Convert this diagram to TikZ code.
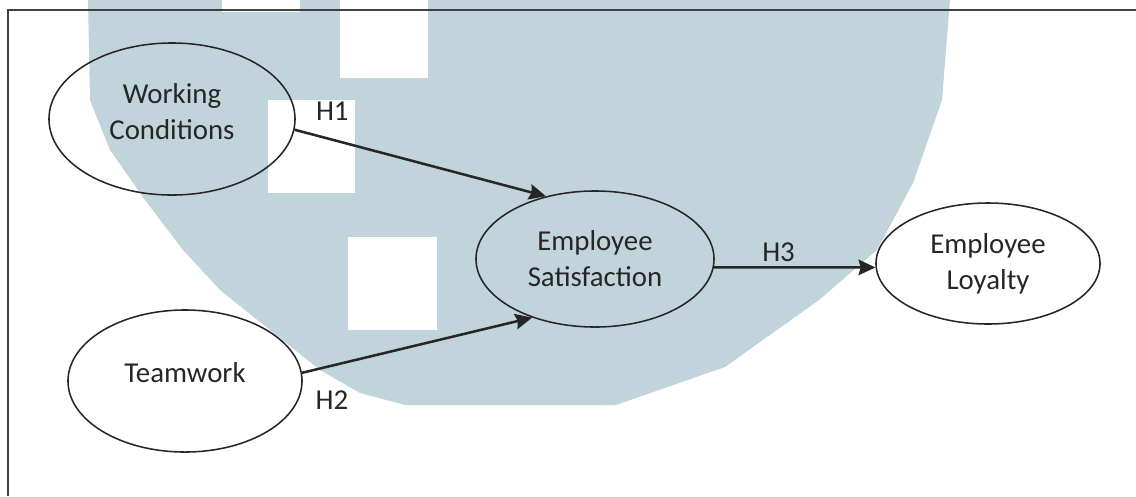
\documentclass[tikz,border=0pt]{standalone}
\usepackage{fontspec}
\setmainfont{Carlito}
\usepackage{tikz}
\usetikzlibrary{arrows.meta}
\usetikzlibrary{shapes}
\usetikzlibrary{positioning}
\usetikzlibrary{backgrounds}

\definecolor{logoblue}{RGB}{194,212,219}
\definecolor{inkgray}{RGB}{38,38,38}

\begin{document}
\begin{tikzpicture}[x=0.025cm,y=-0.025cm]
        \useasboundingbox (0,0) rectangle (1136,496);
        % watermark behind the model
        \fill[logoblue] (88,0) -- (90,100) -- (110,150) -- (145,200) -- (183,250) -- (220,290)
            -- (270,330) -- (320,370) -- (360,393) -- (405,405) -- (616,405) -- (725,367)
            -- (819,300) -- (877,250) -- (913,183) -- (942,100) -- (950,0) -- cycle;
        \fill[white] (222,0) rectangle (300,12);
        \fill[white] (340,0) rectangle (428,78);
        \fill[white] (268,100) rectangle (355,193);
        \fill[white] (348,237) rectangle (437,330);
        \draw[line width=1pt,black!75] (8,496) -- (8,10) -- (1136,10);
        \begin{scope}[every node/.style={ellipse,draw=inkgray,line width=1.1pt,text=inkgray,
                align=center,inner sep=0pt,font=\fontsize{20.5}{25.6}\selectfont}]
            \node[minimum width=6.15cm,minimum height=3.8cm,text depth=11pt] (1) at (172,119) {Working\\Conditions};
            \node[minimum width=5.85cm,minimum height=3.55cm,text depth=12pt] (2) at (185,381) {Teamwork};
            \node[minimum width=5.95cm,minimum height=3.4cm] (3) at (595,259) {Employee\\Satisfaction};
            \node[minimum width=5.6cm,minimum height=3.025cm] (4) at (988,263.5) {Employee\\Loyalty};
        \end{scope}
        \begin{scope}[>={Stealth[length=12pt,width=11pt,inset=1.5pt]},
            every edge/.style={draw=inkgray,line width=1.8pt},
            every node/.style={text=inkgray,inner sep=0pt,font=\fontsize{20.5}{25.6}\selectfont}]
                    \path[->] (1.-5) edge node[above=13pt,pos=0.15] {H1} (3.128);
                    \path[->] (2.4) edge node[below=17pt,pos=0.13] {H2} (3.-137);
                    \path[->] (3.-4) edge node[above=3pt,pos=0.4] {H3} (4.182);
        \end{scope}
    \end{tikzpicture}
\end{document}
